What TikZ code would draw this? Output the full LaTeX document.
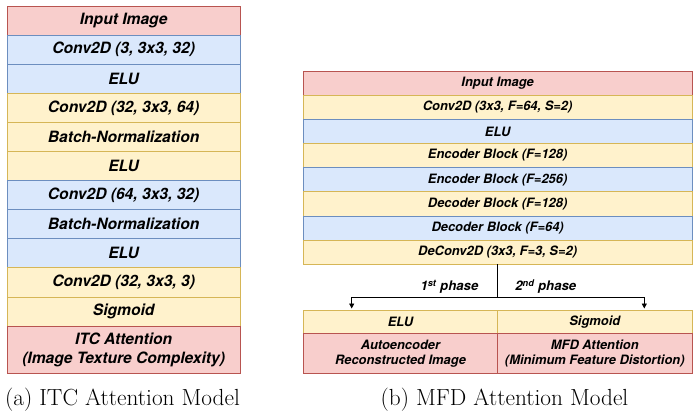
\documentclass[tikz,border=0pt]{standalone}
\usepackage{fontspec}
\usetikzlibrary{arrows.meta}
\newfontfamily\hv{TeX Gyre Heros}
\definecolor{pinkF}{HTML}{F8CECC}\definecolor{pinkD}{HTML}{B85450}
\definecolor{blueF}{HTML}{DAE8FC}\definecolor{blueD}{HTML}{6C8EBF}
\definecolor{yelF}{HTML}{FFF2CC}\definecolor{yelD}{HTML}{D6B656}
\begin{document}
\begin{tikzpicture}[x=1pt,y=-1pt,
  box/.style={rectangle, draw, line width=0.9pt, inner sep=0pt, outer sep=0pt, align=center, text=black, anchor=north},
  pinkbox/.style={box, fill=pinkF, draw=pinkD},
  bluebox/.style={box, fill=blueF, draw=blueD},
  yelbox/.style={box, fill=yelF, draw=yelD},
  lrow/.style={minimum width=232.7pt, minimum height=29.1pt, font=\hv\bfseries\itshape\fontsize{15.6}{18.3}\selectfont},
  rrow/.style={minimum width=388.7pt, minimum height=24.16pt, font=\hv\bfseries\itshape\fontsize{12.9}{15}\selectfont},
  hrow/.style={minimum width=194.35pt, font=\hv\bfseries\itshape\fontsize{12.9}{15}\selectfont},
  lbl/.style={font=\hv\bfseries\itshape\fontsize{13.2}{15}\selectfont, anchor=base},
  captext/.style={font=\fontsize{23.3}{26}\selectfont, anchor=base},
  arr/.style={line width=0.8pt, -{Triangle[length=5pt,width=5pt]}, shorten >=1.5pt}
]
\useasboundingbox (0,0) rectangle (699,418);
% left panel
\node[pinkbox, lrow] (l1) at (123.65,6) {Input Image};
\node[bluebox, lrow] (l2) at (l1.south) {Conv2D (3, 3x3, 32)};
\node[bluebox, lrow] (l3) at (l2.south) {ELU};
\node[yelbox, lrow] (l4) at (l3.south) {Conv2D (32, 3x3, 64)};
\node[yelbox, lrow] (l5) at (l4.south) {Batch-Normalization};
\node[yelbox, lrow] (l6) at (l5.south) {ELU};
\node[bluebox, lrow] (l7) at (l6.south) {Conv2D (64, 3x3, 32)};
\node[bluebox, lrow] (l8) at (l7.south) {Batch-Normalization};
\node[bluebox, lrow] (l9) at (l8.south) {ELU};
\node[yelbox, lrow] (l10) at (l9.south) {Conv2D (32, 3x3, 3)};
\node[yelbox, lrow] (l11) at (l10.south) {Sigmoid};
\node[pinkbox, lrow, minimum height=47.5pt] (l12) at (l11.south) {ITC Attention\\(Image Texture Complexity)};
\node[captext] (capa) at (122.5,405) {(a) ITC Attention Model};
% right panel
\node[pinkbox, rrow] (r1) at (497.65,71) {Input Image};
\node[yelbox, rrow] (r2) at (r1.south) {Conv2D (3x3, F=64, S=2)};
\node[bluebox, rrow] (r3) at (r2.south) {ELU};
\node[yelbox, rrow] (r4) at (r3.south) {Encoder Block (F=128)};
\node[bluebox, rrow] (r5) at (r4.south) {Encoder Block (F=256)};
\node[yelbox, rrow] (r6) at (r5.south) {Decoder Block (F=128)};
\node[bluebox, rrow] (r7) at (r6.south) {Decoder Block (F=64)};
\node[yelbox, rrow] (r8) at (r7.south) {DeConv2D (3x3, F=3, S=2)};
% bottom boxes
\node[yelbox, hrow, minimum height=23.3pt] (b1) at (400.5,310) {ELU};
\node[yelbox, hrow, minimum height=23.3pt] (b2) at (594.8,310) {Sigmoid};
\node[pinkbox, hrow, minimum height=40pt] (b3) at (b1.south) {Autoencoder\\Reconstructed Image};
\node[pinkbox, hrow, minimum height=40pt] (b4) at (b2.south) {MFD Attention\\(Minimum Feature Distortion)};
% connectors
\coordinate (split) at (497.65,297);
\coordinate (t1) at (351.7,310);
\coordinate (t2) at (644.3,310);
\draw[arr] (r8.south) -- (split) -| (t1);
\draw[arr] (r8.south) -- (split) -| (t2);
\node[lbl] (p1) at (449.5,290.7) {1\textsuperscript{st} phase};
\node[lbl] (p2) at (545.8,290.7) {2\textsuperscript{nd} phase};
\node[captext] (capb) at (504.5,405) {(b) MFD Attention Model};
\end{tikzpicture}
\end{document}
